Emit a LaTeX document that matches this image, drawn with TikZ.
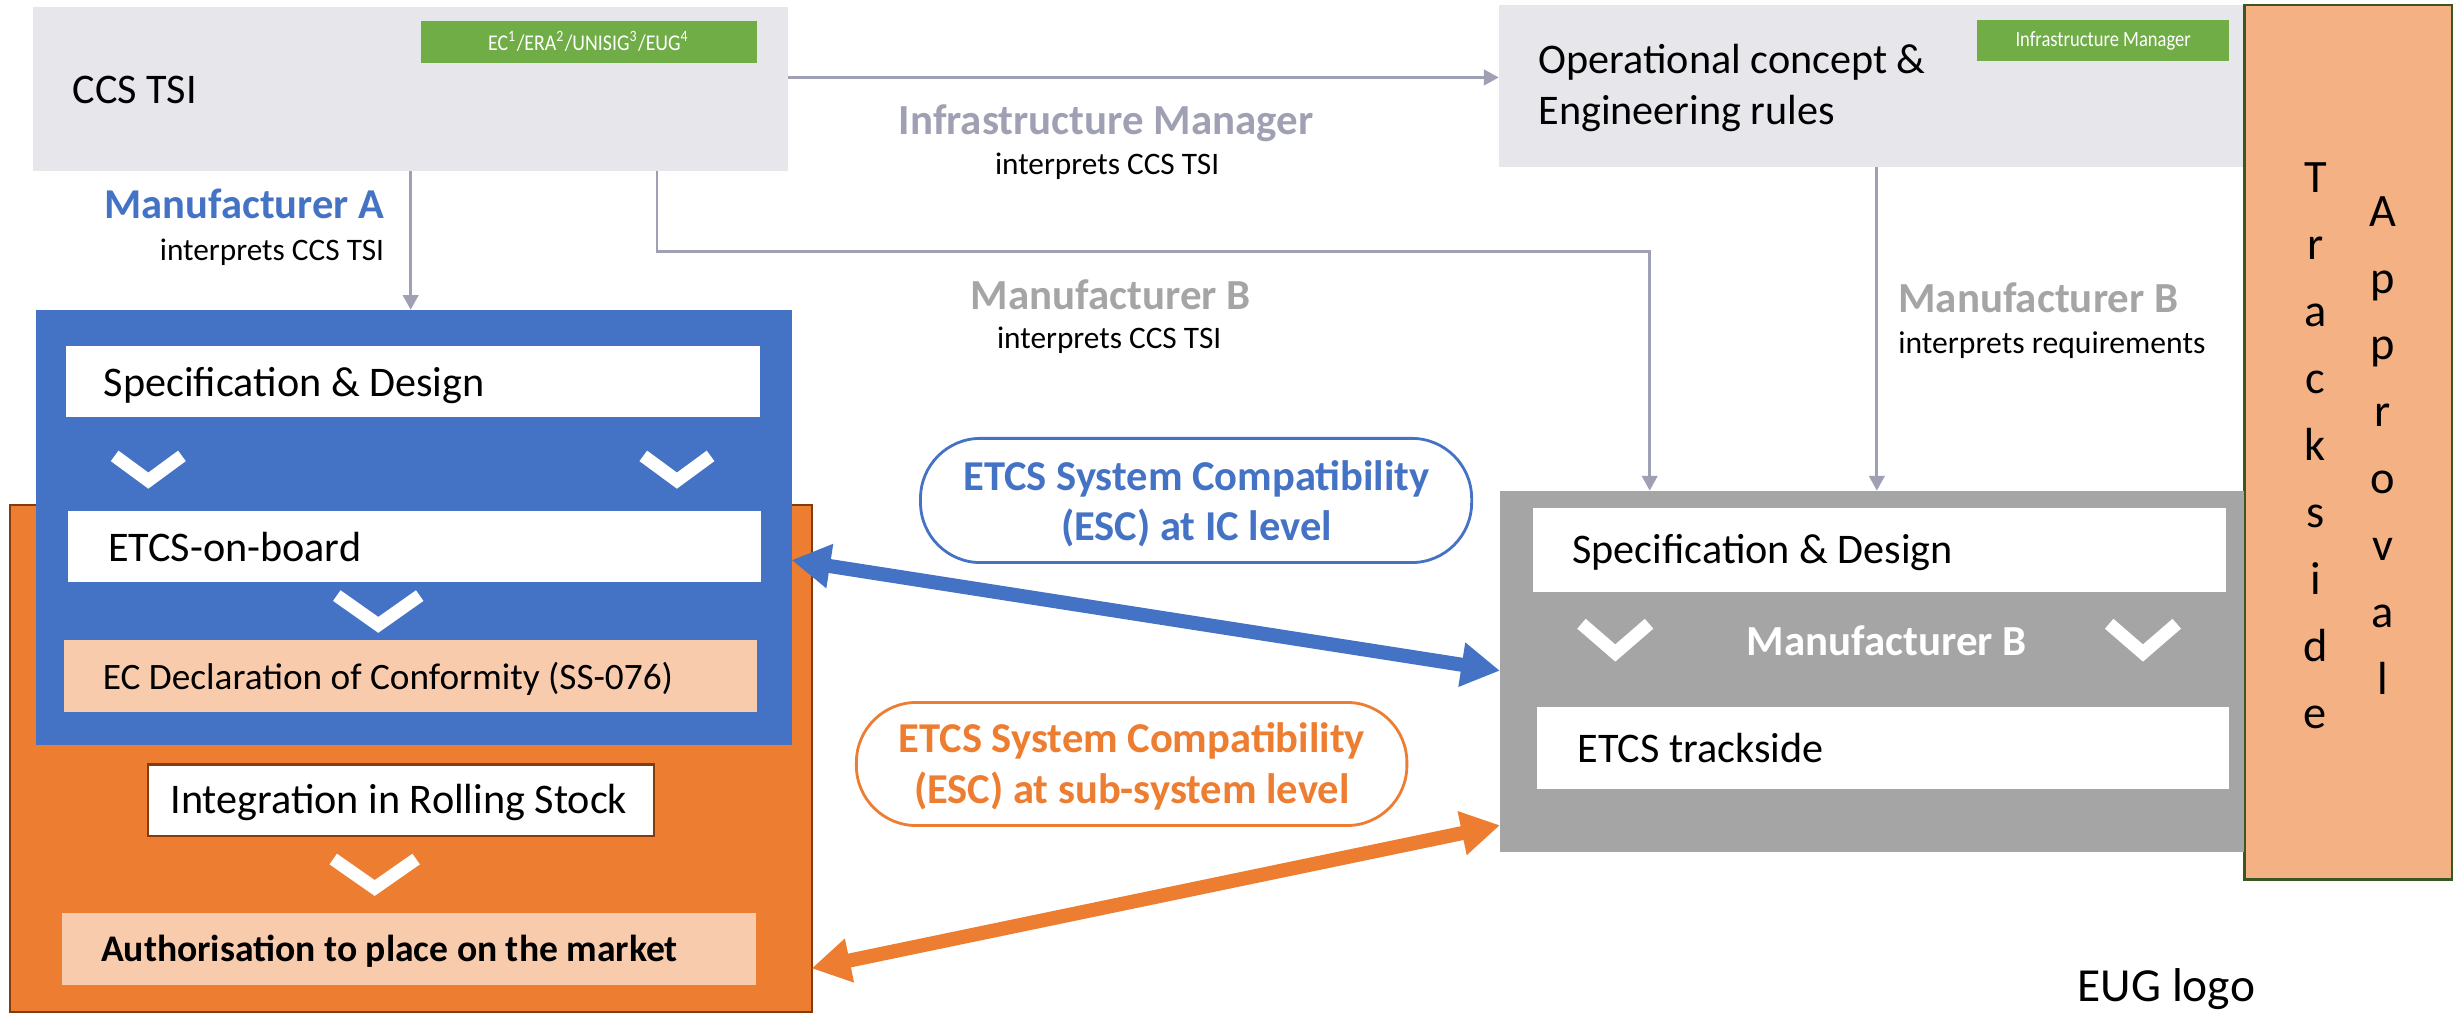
\documentclass[tikz,border=0pt]{standalone}
\usepackage{fontspec}
\setmainfont{Carlito}
\usetikzlibrary{arrows.meta,fit}
\definecolor{lgray}{HTML}{E7E6EB}
\definecolor{igreen}{HTML}{70AD47}
\definecolor{iblue}{HTML}{4472C4}
\definecolor{iorange}{HTML}{ED7D31}
\definecolor{peach}{HTML}{F8CBAD}
\definecolor{tpeach}{HTML}{F4B183}
\definecolor{dgreen}{HTML}{385723}
\definecolor{dbrown}{HTML}{843C0C}
\definecolor{mgray}{HTML}{A5A5A5}
\definecolor{lngray}{HTML}{A0A0B4}
\newcommand\fsz[1]{\fontsize{#1pt}{#1pt}\selectfont}
\newcommand\chevron[4]{\draw[chev] ({#1-#3},{#2-#4}) -- (#1,#2) -- ({#1+#3},{#2-#4});}
\begin{document}
\begin{tikzpicture}[x=0.015644cm,y=-0.015644cm,
  box/.style={inner sep=0pt, outer sep=0pt},
  txt/.style={inner sep=0pt, anchor=base west, font=\fsz{12}},
  garrow/.style={draw=lngray, line width=0.8pt, -{Triangle[length=4.2pt,width=4.4pt]}},
  barrow/.style={draw=iblue, line width=4pt, {Triangle[length=11pt,width=12pt]}-{Triangle[length=11pt,width=12pt]}},
  oarrow/.style={draw=iorange, line width=4pt, {Triangle[length=11pt,width=12pt]}-{Triangle[length=11pt,width=12pt]}},
  chev/.style={draw=white, line width=3.7pt}
]
\useasboundingbox (0,0) rectangle (1568,648);
% top boxes
\node[box, fit={(21,4.3) (504,109)}, fill=lgray] (ccs) {};
\node[box, fit={(269,13.4) (483.6,40)}, fill=igreen] (g1) {};
\node[inner sep=0pt, text=white, font=\fsz{6.4}] (g1t) at (g1.center) {\scalebox{0.88}[1]{EC\textsuperscript{1}/ERA\textsuperscript{2}/UNISIG\textsuperscript{3}/EUG\textsuperscript{4}}};
\node[txt] (ccst) at (46,66) {CCS TSI};
\node[box, fit={(958,3.5) (1434.6,107)}, fill=lgray] (op) {};
\node[box, fit={(1263.7,13) (1425,38.7)}, fill=igreen] (g2) {};
\node[inner sep=0pt, text=white, font=\fsz{6.2}] (g2t) at (g2.center) {\scalebox{0.85}[1]{Infrastructure Manager}};
\node[txt] (opt1) at (983,47) {Operational concept \&};
\node[txt] (opt2) at (983,79.5) {Engineering rules};
% trackside approval
\node[box, fit={(1434.6,3.2) (1567.5,562)}, fill=tpeach, draw=dgreen, line width=0.8pt] (ta) {};
\foreach \ch [count=\i from 0] in {T,r,a,c,k,s,i,d,e}
  \node[inner sep=0pt, anchor=base, font=\fsz{13.2}] (ts\i) at (1480,{123.2+42.8*\i}) {\ch};
\foreach \ch [count=\i from 0] in {A,p,p,r,o,v,a,l}
  \node[inner sep=0pt, anchor=base, font=\fsz{13.2}] (ap\i) at (1523,{144.5+42.8*\i}) {\ch};
% labels
\node[inner sep=0pt, anchor=base east, font=\bfseries\fsz{12.1}, text=iblue] (mA) at (246,139.6) {Manufacturer A};
\node[inner sep=0pt, anchor=base east, font=\fsz{8.9}] (mAi) at (246,166.2) {interprets CCS TSI};
\node[inner sep=0pt, anchor=base, font=\bfseries\fsz{12.2}, text=lngray] (im) at (707,85.9) {Infrastructure Manager};
\node[inner sep=0pt, anchor=base, font=\fsz{8.9}] (imi) at (707.7,111.3) {interprets CCS TSI};
\node[inner sep=0pt, anchor=base, font=\bfseries\fsz{12.2}, text=mgray] (mB1) at (710,197.6) {Manufacturer B};
\node[inner sep=0pt, anchor=base, font=\fsz{8.9}] (mB1i) at (709,223) {interprets CCS TSI};
\node[inner sep=0pt, anchor=base west, font=\bfseries\fsz{12.2}, text=mgray] (mB2) at (1213,199.9) {Manufacturer B};
\node[inner sep=0pt, anchor=base west, font=\fsz{9}] (mB2i) at (1213,225.9) {interprets requirements};
% left: orange and blue boxes
\node[box, fit={(6.6,323) (518.8,646.7)}, fill=iorange, draw=dbrown, line width=0.6pt] (orA) {};
\node[box, fit={(23,198) (506,476)}, fill=iblue] (blA) {};
\node[box, fit={(42,220.9) (485.5,266.6)}, fill=white] (spA) {};
\node[txt] (spAt) at (66,253.5) {Specification \& Design};
\chevron{94.8}{307.2}{21.5}{15.8}
\chevron{432.7}{307.2}{21.5}{15.8}
\node[box, fit={(43.3,326.5) (486.2,372.2)}, fill=white] (obA) {};
\node[txt] (obAt) at (68.7,358.6) {ETCS-on-board};
\chevron{241.8}{399.4}{26.5}{18.7}
\node[box, fit={(41.1,409.2) (483.6,455.2)}, fill=peach] (ecA) {};
\node[txt, font=\fsz{10.6}] (ecAt) at (65.3,440.6) {EC Declaration of Conformity (SS-076)};
\node[box, fit={(94.7,488.7) (418.3,534.4)}, fill=white, draw=dbrown, line width=0.6pt] (inA) {};
\node[inner sep=0pt, anchor=base, font=\fsz{12}] (inAt) at (255,520.1) {Integration in Rolling Stock};
\chevron{239.5}{567.6}{26.5}{18.5}
\node[box, fit={(39.6,583.9) (483.3,629.3)}, fill=peach] (auA) {};
\node[txt, font=\bfseries\fsz{10.7}] (auAt) at (64.2,614.4) {Authorisation to place on the market};
% right gray box
\node[box, fit={(958.8,313.6) (1434.6,544.5)}, fill=mgray] (grB) {};
\node[box, fit={(980,325) (1423,378.4)}, fill=white] (spB) {};
\node[txt] (spBt) at (1004.6,360) {Specification \& Design};
\chevron{1032.5}{417.4}{21.6}{18.7}
\chevron{1369.8}{417.4}{21.6}{18.7}
\node[inner sep=0pt, anchor=base, font=\bfseries\fsz{12.2}, text=white] (mB3) at (1206,419.2) {Manufacturer B};
\node[box, fit={(982.5,452) (1425,504.5)}, fill=white] (tsB) {};
\node[txt] (tsBt) at (1008,487.2) {ETCS trackside};
% ESC ellipses
\node[box, fit={(588.4,280.2) (940.7,359.6)}, fill=white, draw=iblue, line width=0.8pt, rounded corners=0.6cm] (esc1) {};
\node[inner sep=0pt, anchor=base, font=\bfseries\fsz{12.1}, text=iblue] (esc1a) at (764.8,313.7) {ETCS System Compatibility};
\node[inner sep=0pt, anchor=base, font=\bfseries\fsz{12.1}, text=iblue] (esc1b) at (764.8,345.3) {(ESC) at IC level};
\node[box, fit={(547.4,449) (899.3,527.7)}, fill=white, draw=iorange, line width=0.8pt, rounded corners=0.6cm] (esc2) {};
\node[inner sep=0pt, anchor=base, font=\bfseries\fsz{12.1}, text=iorange] (esc2a) at (723.5,481) {ETCS System Compatibility};
\node[inner sep=0pt, anchor=base, font=\bfseries\fsz{12.1}, text=iorange] (esc2b) at (723.5,513.5) {(ESC) at sub-system level};
\node[inner sep=0pt, anchor=base west, font=\fsz{13.5}] (logo) at (1327.7,640) {EUG logo};
% connectors
\coordinate (c1) at (262.5,0);
\coordinate (yim) at (0,49.5);
\coordinate (c2) at (420,161);
\coordinate (c3) at (1054.5,161);
\coordinate (c4) at (1199.7,0);
\draw[garrow] (ccs.south -| c1) -- (blA.north -| c1);
\draw[garrow] (ccs.east |- yim) -- (op.west |- yim);
\draw[garrow] (ccs.south -| c2) -- (c2) -- (c3) -- (grB.north -| c3);
\draw[garrow] (op.south -| c4) -- (grB.north -| c4);
\coordinate (b1) at (0,358);
\coordinate (b2) at (0,428.7);
\coordinate (o1) at (0,619);
\coordinate (o2) at (0,527.5);
\draw[barrow] (blA.east |- b1) -- (grB.west |- b2);
\draw[oarrow] (orA.east |- o1) -- (grB.west |- o2);
\end{tikzpicture}
\end{document}
